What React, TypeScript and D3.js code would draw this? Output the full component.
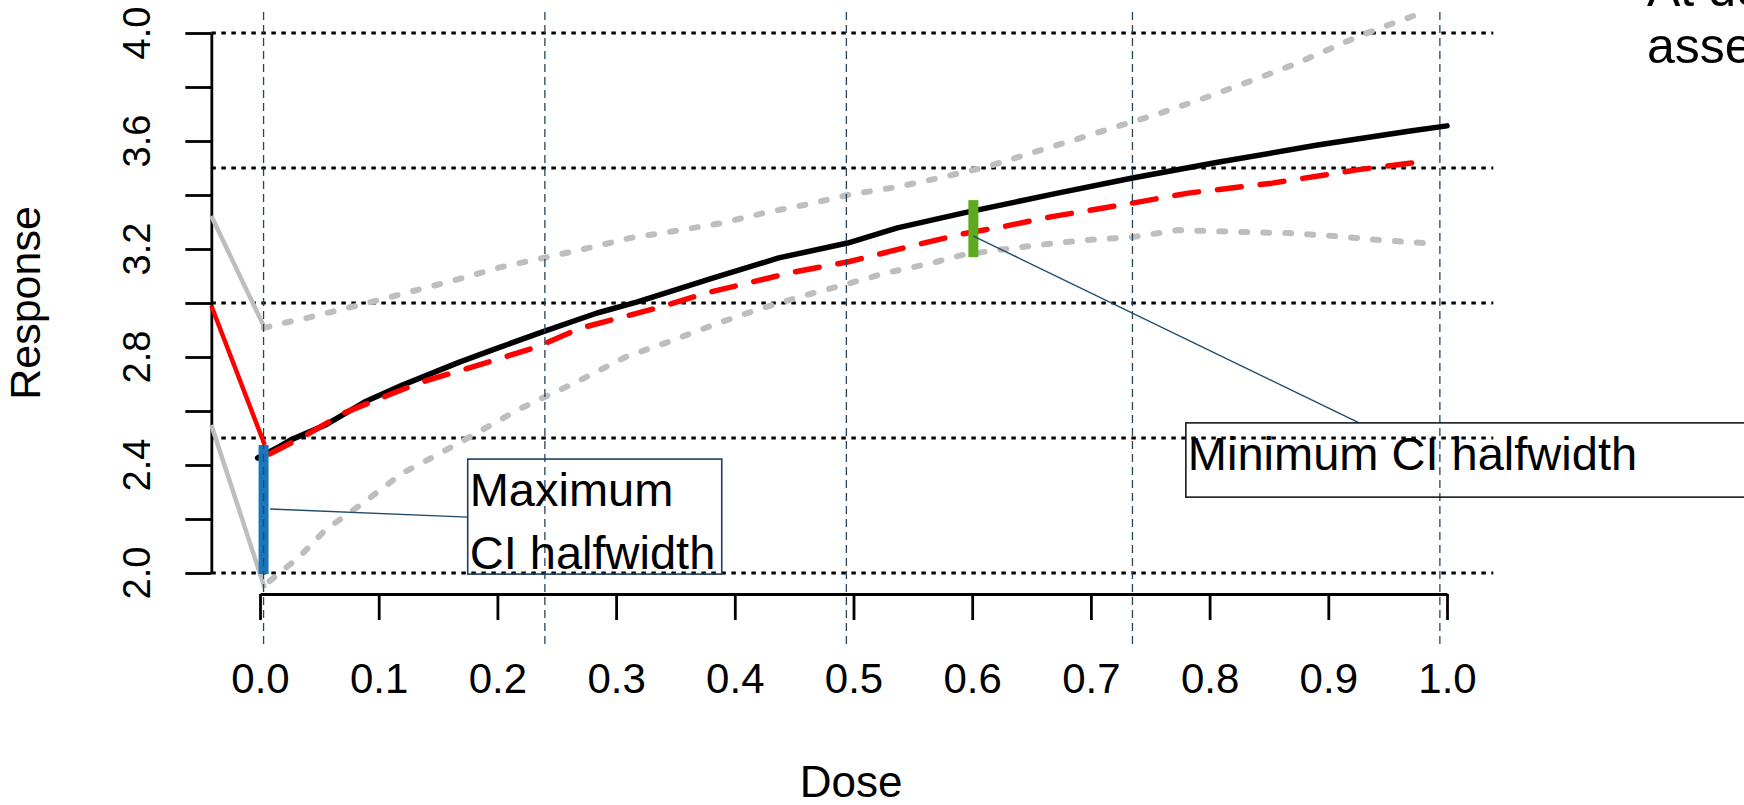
import { useEffect, useRef } from "react";
import * as d3 from "d3";

const WIDTH = 1744;
const HEIGHT = 805;
const FONT = "'Liberation Sans', Arial, Helvetica, sans-serif";

// axis ticks
const doseTicks = [0, 0.1, 0.2, 0.3, 0.4, 0.5, 0.6, 0.7, 0.8, 0.9, 1.0];
const doseTickLabels = ["0.0", "0.1", "0.2", "0.3", "0.4", "0.5", "0.6", "0.7", "0.8", "0.9", "1.0"];
const respTicks = [2.0, 2.2, 2.4, 2.6, 2.8, 3.0, 3.2, 3.4, 3.6, 3.8, 4.0];
const respTickLabels = ["2.0", "", "2.4", "", "2.8", "", "3.2", "", "3.6", "", "4.0"];

// reference grid
const guideResp = [2.0, 2.5, 3.0, 3.5, 4.0];
const guideDose = [0.003, 0.24, 0.494, 0.735, 0.994];

// placebo arm (left of dose 0) joined to first dose
const placeboDose = [-0.041, 0.004];
const placeboFit = [2.99, 2.474];
const placeboUpper = [3.322, 2.907];
const placeboLower = [2.548, 1.944];

// observed mean response (black)
const meanDose = [-0.002, 0.017, 0.026, 0.055, 0.088, 0.12, 0.168, 0.2, 0.238, 0.284, 0.318, 0.382, 0.437, 0.495, 0.537, 0.592, 0.672, 0.735, 0.808, 0.891, 0.969, 1.0];
const meanResp = [2.426, 2.47, 2.493, 2.548, 2.633, 2.696, 2.781, 2.833, 2.893, 2.963, 3.004, 3.093, 3.167, 3.222, 3.278, 3.333, 3.407, 3.463, 3.522, 3.585, 3.637, 3.656];

// fitted curve (red dashed)
const fitDose = [0.008, 0.039, 0.071, 0.104, 0.136, 0.184, 0.233, 0.27, 0.334, 0.376, 0.45, 0.495, 0.559, 0.592, 0.624, 0.666, 0.735, 0.782, 0.853, 0.924, 0.976];
const fitResp = [2.441, 2.511, 2.593, 2.652, 2.707, 2.77, 2.837, 2.907, 2.981, 3.037, 3.115, 3.152, 3.222, 3.256, 3.281, 3.319, 3.37, 3.407, 3.444, 3.493, 3.522];

// confidence band (grey dotted)
const upperDose = [0.003, 0.016, 0.039, 0.094, 0.132, 0.168, 0.203, 0.242, 0.277, 0.312, 0.35, 0.389, 0.428, 0.463, 0.495, 0.537, 0.576, 0.612, 0.65, 0.686, 0.721, 0.759, 0.798, 0.837, 0.872, 0.924, 0.944, 0.981];
const upperResp = [2.907, 2.922, 2.944, 3.004, 3.048, 3.089, 3.133, 3.17, 3.204, 3.241, 3.267, 3.296, 3.337, 3.367, 3.4, 3.43, 3.467, 3.504, 3.556, 3.604, 3.652, 3.704, 3.763, 3.826, 3.885, 3.985, 4.019, 4.078];
const lowerDose = [0.008, 0.033, 0.055, 0.088, 0.12, 0.152, 0.184, 0.217, 0.238, 0.265, 0.308, 0.344, 0.382, 0.418, 0.457, 0.492, 0.527, 0.566, 0.592, 0.621, 0.656, 0.695, 0.735, 0.773, 0.827, 0.866, 0.905, 0.944, 0.981];
const lowerResp = [1.97, 2.059, 2.159, 2.263, 2.37, 2.444, 2.522, 2.604, 2.648, 2.704, 2.8, 2.856, 2.919, 2.974, 3.026, 3.067, 3.111, 3.148, 3.178, 3.196, 3.215, 3.233, 3.244, 3.27, 3.263, 3.259, 3.248, 3.233, 3.222];

// CI halfwidth bars
const barDose = [0.003, 0.601];
const barLow = [1.996, 3.17];
const barHigh = [2.474, 3.381];
const barColor = ["#1B75BB", "#5DAA1F"];

// callouts
const noteLines = [["Maximum", "CI halfwidth"], ["Minimum CI halfwidth"]];
const noteBoxDose = [[0.175, 0.389], [0.78, 1.5]];
const noteBoxResp = [[1.996, 2.422], [2.281, 2.556]];
const noteFrom = [[0.0085, 2.237], [0.601, 3.248]];
const noteTo = [[0.175, 2.207], [0.926, 2.556]];
const noteBorder = ["#1F3F5F", "#1a1a1a"];

const cornerText = ["At de", "asse"];

const zip = (a: number[], b: number[]): [number, number][] => a.map((v, i) => [v, b[i]]);

export default function App() {
  const svgRef = useRef<SVGSVGElement | null>(null);

  useEffect(() => {
    if (!svgRef.current) return;
    const svg = d3.select(svgRef.current);
    svg.selectAll("*").remove();

    const x = d3.scaleLinear().domain([0, 1]).range([260, 1447]);
    const y = d3.scaleLinear().domain([2, 4]).range([573, 33]);
    const xLeft = x(-0.041);
    const xRight = x(1.039);

    const line = d3
      .line<[number, number]>()
      .x(d => x(d[0]))
      .y(d => y(d[1]));

    // horizontal dotted guides
    svg
      .append("g")
      .selectAll("line")
      .data(guideResp)
      .join("line")
      .attr("x1", xLeft)
      .attr("x2", xRight)
      .attr("y1", d => y(d))
      .attr("y2", d => y(d))
      .attr("stroke", "#000")
      .attr("stroke-width", 3)
      .attr("stroke-dasharray", "4.5 5.5");

    // y axis
    const yAxis = svg
      .append("g")
      .attr("transform", `translate(${xLeft},0)`)
      .call(d3.axisLeft(y).tickValues(respTicks).tickSize(26).tickSizeOuter(0).tickFormat(() => ""));
    yAxis.selectAll("path, line").attr("stroke", "#000").attr("stroke-width", 2.8);

    respTicks.forEach((v, i) => {
      if (!respTickLabels[i]) return;
      svg
        .append("text")
        .attr("x", 137)
        .attr("y", y(v))
        .attr("transform", `rotate(-90,137,${y(v)})`)
        .attr("text-anchor", "middle")
        .attr("dominant-baseline", "central")
        .style("font-family", FONT)
        .style("font-size", "38px")
        .text(respTickLabels[i]);
    });

    // x axis
    const xAxis = svg
      .append("g")
      .attr("transform", "translate(0,594)")
      .call(d3.axisBottom(x).tickValues(doseTicks).tickSize(26).tickSizeOuter(0).tickFormat((_, i) => doseTickLabels[i]));
    xAxis.selectAll("path, line").attr("stroke", "#000").attr("stroke-width", 2.8);
    xAxis
      .selectAll("text")
      .attr("y", 99)
      .attr("dy", 0)
      .attr("fill", "#000")
      .style("font-family", FONT)
      .style("font-size", "42px");

    // axis titles
    svg
      .append("text")
      .attr("x", 851)
      .attr("y", 797)
      .attr("text-anchor", "middle")
      .style("font-family", FONT)
      .style("font-size", "44px")
      .text("Dose");

    svg
      .append("text")
      .attr("transform", "translate(40,303) rotate(-90)")
      .attr("text-anchor", "middle")
      .style("font-family", FONT)
      .style("font-size", "43px")
      .text("Response");

    // placebo connectors
    [placeboUpper, placeboLower].forEach(vals => {
      svg
        .append("path")
        .datum(zip(placeboDose, vals))
        .attr("fill", "none")
        .attr("stroke", "#BEBEBE")
        .attr("stroke-width", 4.5)
        .attr("d", line);
    });
    svg
      .append("path")
      .datum(zip(placeboDose, placeboFit))
      .attr("fill", "none")
      .attr("stroke", "#FF0000")
      .attr("stroke-width", 4.5)
      .attr("d", line);

    // confidence band
    [zip(upperDose, upperResp), zip(lowerDose, lowerResp)].forEach(pts => {
      svg
        .append("path")
        .datum(pts)
        .attr("fill", "none")
        .attr("stroke", "#BEBEBE")
        .attr("stroke-width", 6)
        .attr("stroke-linecap", "round")
        .attr("stroke-dasharray", "6 16")
        .attr("d", line);
    });

    // observed mean
    svg
      .append("path")
      .datum(zip(meanDose, meanResp))
      .attr("fill", "none")
      .attr("stroke", "#000")
      .attr("stroke-width", 5.5)
      .attr("stroke-linecap", "round")
      .attr("stroke-linejoin", "round")
      .attr("d", line);

    // fitted
    svg
      .append("path")
      .datum(zip(fitDose, fitResp))
      .attr("fill", "none")
      .attr("stroke", "#FF0000")
      .attr("stroke-width", 5.5)
      .attr("stroke-linecap", "round")
      .attr("stroke-dasharray", "24 19")
      .attr("d", line);

    // CI halfwidth bars
    barDose.forEach((d, i) => {
      svg
        .append("rect")
        .attr("x", x(d) - 5)
        .attr("width", 10)
        .attr("y", y(barHigh[i]))
        .attr("height", y(barLow[i]) - y(barHigh[i]))
        .attr("fill", barColor[i]);
    });

    // vertical dashed guides
    svg
      .append("g")
      .selectAll("line")
      .data(guideDose)
      .join("line")
      .attr("x1", d => x(d))
      .attr("x2", d => x(d))
      .attr("y1", y(4.078))
      .attr("y2", y(1.733))
      .attr("stroke", "#25455F")
      .attr("stroke-width", 1.3)
      .attr("stroke-dasharray", "8 5");

    // callouts
    noteLines.forEach((lines, i) => {
      const bx0 = x(noteBoxDose[i][0]);
      const bx1 = x(noteBoxDose[i][1]);
      const by0 = y(noteBoxResp[i][1]);
      const by1 = y(noteBoxResp[i][0]);
      svg
        .append("line")
        .attr("x1", x(noteFrom[i][0]))
        .attr("y1", y(noteFrom[i][1]))
        .attr("x2", x(noteTo[i][0]))
        .attr("y2", y(noteTo[i][1]))
        .attr("stroke", "#1F4A6A")
        .attr("stroke-width", 1.4);
      svg
        .append("rect")
        .attr("x", bx0)
        .attr("y", by0)
        .attr("width", bx1 - bx0)
        .attr("height", by1 - by0)
        .attr("fill", "none")
        .attr("stroke", noteBorder[i])
        .attr("stroke-width", 1.6);
      lines.forEach((t, j) => {
        svg
          .append("text")
          .attr("x", bx0 + 2)
          .attr("y", by0 + 47 + j * 63)
          .style("font-family", FONT)
          .style("font-size", "47px")
          .text(t);
      });
    });

    // clipped text in the corner
    cornerText.forEach((t, i) => {
      svg
        .append("text")
        .attr("x", 1647)
        .attr("y", 6 + i * 57)
        .style("font-family", FONT)
        .style("font-size", "50px")
        .text(t);
    });
  }, []);

  return (
    <svg
      ref={svgRef}
      width={WIDTH}
      height={HEIGHT}
      style={{ position: "absolute", left: 0, top: 0, background: "#fff" }}
    />
  );
}
